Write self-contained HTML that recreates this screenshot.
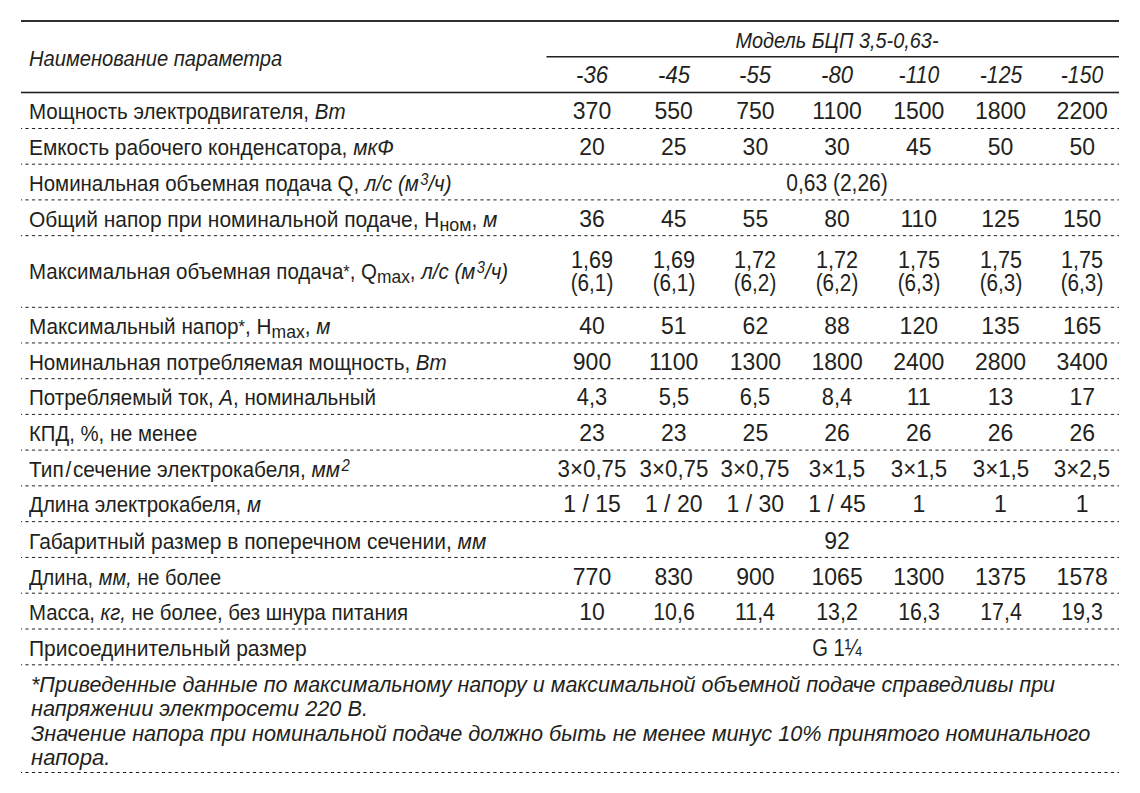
<!DOCTYPE html>
<html><head><meta charset="utf-8"><style>
html,body{margin:0;padding:0;background:#fff;width:1140px;height:793px;overflow:hidden;position:relative}
.t{position:absolute;white-space:nowrap;font-family:"Liberation Sans",sans-serif;color:#231f20}
.t sub{font-size:0.85em;vertical-align:-0.2em;line-height:0}
.t .ast{font-size:0.8em;vertical-align:0.05em;line-height:0}
.t sup{font-size:0.72em;vertical-align:0.4em;line-height:0;margin-left:0.1em}
.l{position:absolute;background:#231f20}
</style></head><body>
<svg width="1140" height="793" style="position:absolute;left:0;top:0"><line x1="21" x2="1119" y1="128.5" y2="128.5" stroke="#231f20" stroke-width="1" stroke-dasharray="3.2 3.3" stroke-dashoffset="2.1"/><line x1="21" x2="1119" y1="164.2" y2="164.2" stroke="#231f20" stroke-width="1" stroke-dasharray="3.2 3.3" stroke-dashoffset="2.1"/><line x1="21" x2="1119" y1="199.9" y2="199.9" stroke="#231f20" stroke-width="1" stroke-dasharray="3.2 3.3" stroke-dashoffset="2.1"/><line x1="21" x2="1119" y1="235.65" y2="235.65" stroke="#231f20" stroke-width="1" stroke-dasharray="3.2 3.3" stroke-dashoffset="2.1"/><line x1="21" x2="1119" y1="307.3" y2="307.3" stroke="#231f20" stroke-width="1" stroke-dasharray="3.2 3.3" stroke-dashoffset="2.1"/><line x1="21" x2="1119" y1="342.95" y2="342.95" stroke="#231f20" stroke-width="1" stroke-dasharray="3.2 3.3" stroke-dashoffset="2.1"/><line x1="21" x2="1119" y1="378.7" y2="378.7" stroke="#231f20" stroke-width="1" stroke-dasharray="3.2 3.3" stroke-dashoffset="2.1"/><line x1="21" x2="1119" y1="414.4" y2="414.4" stroke="#231f20" stroke-width="1" stroke-dasharray="3.2 3.3" stroke-dashoffset="2.1"/><line x1="21" x2="1119" y1="450.1" y2="450.1" stroke="#231f20" stroke-width="1" stroke-dasharray="3.2 3.3" stroke-dashoffset="2.1"/><line x1="21" x2="1119" y1="485.85" y2="485.85" stroke="#231f20" stroke-width="1" stroke-dasharray="3.2 3.3" stroke-dashoffset="2.1"/><line x1="21" x2="1119" y1="521.65" y2="521.65" stroke="#231f20" stroke-width="1" stroke-dasharray="3.2 3.3" stroke-dashoffset="2.1"/><line x1="21" x2="1119" y1="557.45" y2="557.45" stroke="#231f20" stroke-width="1" stroke-dasharray="3.2 3.3" stroke-dashoffset="2.1"/><line x1="21" x2="1119" y1="593.2" y2="593.2" stroke="#231f20" stroke-width="1" stroke-dasharray="3.2 3.3" stroke-dashoffset="2.1"/><line x1="21" x2="1119" y1="629.0" y2="629.0" stroke="#231f20" stroke-width="1" stroke-dasharray="3.2 3.3" stroke-dashoffset="2.1"/><line x1="21" x2="1119" y1="664.8" y2="664.8" stroke="#231f20" stroke-width="1" stroke-dasharray="3.2 3.3" stroke-dashoffset="2.1"/><line x1="21" x2="1119" y1="772.5" y2="772.5" stroke="#231f20" stroke-width="1" stroke-dasharray="3.2 3.3" stroke-dashoffset="2.1"/><rect x="21" y="20.08" width="1098" height="1.84" fill="#231f20"/><rect x="546.5" y="56.0" width="572.5" height="1.5" fill="#231f20"/><rect x="21" y="91.7" width="1098" height="1.6" fill="#231f20"/></svg>

<div class="t" style="top:47.83px;font-size:22px;line-height:22px;font-style:italic;left:28.50px;transform:scaleX(0.9165);transform-origin:0 0;">Наименование параметра</div>
<div class="t" style="top:29.83px;font-size:22px;line-height:22px;font-style:italic;left:837.40px;transform:scaleX(0.9036) translateX(-50%);transform-origin:0 0;">Модель БЦП 3,5-0,63-</div>
<div class="t" style="top:64.00px;font-size:23px;line-height:23px;font-style:italic;left:592.00px;transform:scaleX(0.96) translateX(-50%);transform-origin:0 0;">-36</div>
<div class="t" style="top:64.00px;font-size:23px;line-height:23px;font-style:italic;left:673.70px;transform:scaleX(0.96) translateX(-50%);transform-origin:0 0;">-45</div>
<div class="t" style="top:64.00px;font-size:23px;line-height:23px;font-style:italic;left:755.40px;transform:scaleX(0.96) translateX(-50%);transform-origin:0 0;">-55</div>
<div class="t" style="top:64.00px;font-size:23px;line-height:23px;font-style:italic;left:837.10px;transform:scaleX(0.96) translateX(-50%);transform-origin:0 0;">-80</div>
<div class="t" style="top:64.00px;font-size:23px;line-height:23px;font-style:italic;left:918.80px;transform:scaleX(0.92) translateX(-50%);transform-origin:0 0;">-110</div>
<div class="t" style="top:64.00px;font-size:23px;line-height:23px;font-style:italic;left:1000.50px;transform:scaleX(0.92) translateX(-50%);transform-origin:0 0;">-125</div>
<div class="t" style="top:64.00px;font-size:23px;line-height:23px;font-style:italic;left:1082.20px;transform:scaleX(0.92) translateX(-50%);transform-origin:0 0;">-150</div>
<div class="t" style="top:100.83px;font-size:22px;line-height:22px;left:29.00px;transform:scaleX(0.9335);transform-origin:0 0;">Мощность электродвигателя, <i>Вт</i></div>
<div class="t" style="top:100.00px;font-size:23px;line-height:23px;left:592.00px;transform:translateX(-50%);transform-origin:0 0;">370</div>
<div class="t" style="top:100.00px;font-size:23px;line-height:23px;left:673.70px;transform:translateX(-50%);transform-origin:0 0;">550</div>
<div class="t" style="top:100.00px;font-size:23px;line-height:23px;left:755.40px;transform:translateX(-50%);transform-origin:0 0;">750</div>
<div class="t" style="top:100.00px;font-size:23px;line-height:23px;left:837.10px;transform:translateX(-50%);transform-origin:0 0;">1100</div>
<div class="t" style="top:100.00px;font-size:23px;line-height:23px;left:918.80px;transform:translateX(-50%);transform-origin:0 0;">1500</div>
<div class="t" style="top:100.00px;font-size:23px;line-height:23px;left:1000.50px;transform:translateX(-50%);transform-origin:0 0;">1800</div>
<div class="t" style="top:100.00px;font-size:23px;line-height:23px;left:1082.20px;transform:translateX(-50%);transform-origin:0 0;">2200</div>
<div class="t" style="top:136.83px;font-size:22px;line-height:22px;left:29.00px;transform:scaleX(0.9479);transform-origin:0 0;">Емкость рабочего конденсатора, <i>мкФ</i></div>
<div class="t" style="top:136.00px;font-size:23px;line-height:23px;left:592.00px;transform:translateX(-50%);transform-origin:0 0;">20</div>
<div class="t" style="top:136.00px;font-size:23px;line-height:23px;left:673.70px;transform:translateX(-50%);transform-origin:0 0;">25</div>
<div class="t" style="top:136.00px;font-size:23px;line-height:23px;left:755.40px;transform:translateX(-50%);transform-origin:0 0;">30</div>
<div class="t" style="top:136.00px;font-size:23px;line-height:23px;left:837.10px;transform:translateX(-50%);transform-origin:0 0;">30</div>
<div class="t" style="top:136.00px;font-size:23px;line-height:23px;left:918.80px;transform:translateX(-50%);transform-origin:0 0;">45</div>
<div class="t" style="top:136.00px;font-size:23px;line-height:23px;left:1000.50px;transform:translateX(-50%);transform-origin:0 0;">50</div>
<div class="t" style="top:136.00px;font-size:23px;line-height:23px;left:1082.20px;transform:translateX(-50%);transform-origin:0 0;">50</div>
<div class="t" style="top:172.83px;font-size:22px;line-height:22px;left:29.00px;transform:scaleX(0.9286);transform-origin:0 0;">Номинальная объемная подача Q, <i>л/с (м<sup>3</sup>/ч)</i></div>
<div class="t" style="top:172.00px;font-size:23px;line-height:23px;left:837.00px;transform:scaleX(0.913) translateX(-50%);transform-origin:0 0;">0,63 (2,26)</div>
<div class="t" style="top:208.83px;font-size:22px;line-height:22px;left:29.00px;transform:scaleX(0.9517);transform-origin:0 0;">Общий напор при номинальной подаче, H<sub>ном</sub>, <i>м</i></div>
<div class="t" style="top:208.00px;font-size:23px;line-height:23px;left:592.00px;transform:translateX(-50%);transform-origin:0 0;">36</div>
<div class="t" style="top:208.00px;font-size:23px;line-height:23px;left:673.70px;transform:translateX(-50%);transform-origin:0 0;">45</div>
<div class="t" style="top:208.00px;font-size:23px;line-height:23px;left:755.40px;transform:translateX(-50%);transform-origin:0 0;">55</div>
<div class="t" style="top:208.00px;font-size:23px;line-height:23px;left:837.10px;transform:translateX(-50%);transform-origin:0 0;">80</div>
<div class="t" style="top:208.00px;font-size:23px;line-height:23px;left:918.80px;transform:translateX(-50%);transform-origin:0 0;">110</div>
<div class="t" style="top:208.00px;font-size:23px;line-height:23px;left:1000.50px;transform:translateX(-50%);transform-origin:0 0;">125</div>
<div class="t" style="top:208.00px;font-size:23px;line-height:23px;left:1082.20px;transform:translateX(-50%);transform-origin:0 0;">150</div>
<div class="t" style="top:260.83px;font-size:22px;line-height:22px;left:29.00px;transform:scaleX(0.9309);transform-origin:0 0;">Максимальная объемная подача<span class="ast">*</span>, Q<sub>max</sub>, <i>л/с (м<sup>3</sup>/ч)</i></div>
<div class="t" style="top:249.00px;font-size:23px;line-height:23px;left:592.00px;transform:scaleX(0.94) translateX(-50%);transform-origin:0 0;">1,69</div>
<div class="t" style="top:272.00px;font-size:23px;line-height:23px;left:592.00px;transform:scaleX(0.9) translateX(-50%);transform-origin:0 0;">(6,1)</div>
<div class="t" style="top:249.00px;font-size:23px;line-height:23px;left:673.70px;transform:scaleX(0.94) translateX(-50%);transform-origin:0 0;">1,69</div>
<div class="t" style="top:272.00px;font-size:23px;line-height:23px;left:673.70px;transform:scaleX(0.9) translateX(-50%);transform-origin:0 0;">(6,1)</div>
<div class="t" style="top:249.00px;font-size:23px;line-height:23px;left:755.40px;transform:scaleX(0.94) translateX(-50%);transform-origin:0 0;">1,72</div>
<div class="t" style="top:272.00px;font-size:23px;line-height:23px;left:755.40px;transform:scaleX(0.9) translateX(-50%);transform-origin:0 0;">(6,2)</div>
<div class="t" style="top:249.00px;font-size:23px;line-height:23px;left:837.10px;transform:scaleX(0.94) translateX(-50%);transform-origin:0 0;">1,72</div>
<div class="t" style="top:272.00px;font-size:23px;line-height:23px;left:837.10px;transform:scaleX(0.9) translateX(-50%);transform-origin:0 0;">(6,2)</div>
<div class="t" style="top:249.00px;font-size:23px;line-height:23px;left:918.80px;transform:scaleX(0.94) translateX(-50%);transform-origin:0 0;">1,75</div>
<div class="t" style="top:272.00px;font-size:23px;line-height:23px;left:918.80px;transform:scaleX(0.9) translateX(-50%);transform-origin:0 0;">(6,3)</div>
<div class="t" style="top:249.00px;font-size:23px;line-height:23px;left:1000.50px;transform:scaleX(0.94) translateX(-50%);transform-origin:0 0;">1,75</div>
<div class="t" style="top:272.00px;font-size:23px;line-height:23px;left:1000.50px;transform:scaleX(0.9) translateX(-50%);transform-origin:0 0;">(6,3)</div>
<div class="t" style="top:249.00px;font-size:23px;line-height:23px;left:1082.20px;transform:scaleX(0.94) translateX(-50%);transform-origin:0 0;">1,75</div>
<div class="t" style="top:272.00px;font-size:23px;line-height:23px;left:1082.20px;transform:scaleX(0.9) translateX(-50%);transform-origin:0 0;">(6,3)</div>
<div class="t" style="top:315.83px;font-size:22px;line-height:22px;left:29.00px;transform:scaleX(0.941);transform-origin:0 0;">Максимальный напор<span class="ast">*</span>, H<sub>max</sub>, <i>м</i></div>
<div class="t" style="top:315.00px;font-size:23px;line-height:23px;left:592.00px;transform:translateX(-50%);transform-origin:0 0;">40</div>
<div class="t" style="top:315.00px;font-size:23px;line-height:23px;left:673.70px;transform:translateX(-50%);transform-origin:0 0;">51</div>
<div class="t" style="top:315.00px;font-size:23px;line-height:23px;left:755.40px;transform:translateX(-50%);transform-origin:0 0;">62</div>
<div class="t" style="top:315.00px;font-size:23px;line-height:23px;left:837.10px;transform:translateX(-50%);transform-origin:0 0;">88</div>
<div class="t" style="top:315.00px;font-size:23px;line-height:23px;left:918.80px;transform:translateX(-50%);transform-origin:0 0;">120</div>
<div class="t" style="top:315.00px;font-size:23px;line-height:23px;left:1000.50px;transform:translateX(-50%);transform-origin:0 0;">135</div>
<div class="t" style="top:315.00px;font-size:23px;line-height:23px;left:1082.20px;transform:translateX(-50%);transform-origin:0 0;">165</div>
<div class="t" style="top:351.83px;font-size:22px;line-height:22px;left:29.00px;transform:scaleX(0.9362);transform-origin:0 0;">Номинальная потребляемая мощность, <i>Вт</i></div>
<div class="t" style="top:351.00px;font-size:23px;line-height:23px;left:592.00px;transform:translateX(-50%);transform-origin:0 0;">900</div>
<div class="t" style="top:351.00px;font-size:23px;line-height:23px;left:673.70px;transform:translateX(-50%);transform-origin:0 0;">1100</div>
<div class="t" style="top:351.00px;font-size:23px;line-height:23px;left:755.40px;transform:translateX(-50%);transform-origin:0 0;">1300</div>
<div class="t" style="top:351.00px;font-size:23px;line-height:23px;left:837.10px;transform:translateX(-50%);transform-origin:0 0;">1800</div>
<div class="t" style="top:351.00px;font-size:23px;line-height:23px;left:918.80px;transform:translateX(-50%);transform-origin:0 0;">2400</div>
<div class="t" style="top:351.00px;font-size:23px;line-height:23px;left:1000.50px;transform:translateX(-50%);transform-origin:0 0;">2800</div>
<div class="t" style="top:351.00px;font-size:23px;line-height:23px;left:1082.20px;transform:translateX(-50%);transform-origin:0 0;">3400</div>
<div class="t" style="top:386.83px;font-size:22px;line-height:22px;left:29.00px;transform:scaleX(0.9342);transform-origin:0 0;">Потребляемый ток, <i>А</i>, номинальный</div>
<div class="t" style="top:386.00px;font-size:23px;line-height:23px;left:592.00px;transform:scaleX(0.95) translateX(-50%);transform-origin:0 0;">4,3</div>
<div class="t" style="top:386.00px;font-size:23px;line-height:23px;left:673.70px;transform:scaleX(0.95) translateX(-50%);transform-origin:0 0;">5,5</div>
<div class="t" style="top:386.00px;font-size:23px;line-height:23px;left:755.40px;transform:scaleX(0.95) translateX(-50%);transform-origin:0 0;">6,5</div>
<div class="t" style="top:386.00px;font-size:23px;line-height:23px;left:837.10px;transform:scaleX(0.95) translateX(-50%);transform-origin:0 0;">8,4</div>
<div class="t" style="top:386.00px;font-size:23px;line-height:23px;left:918.80px;transform:translateX(-50%);transform-origin:0 0;">11</div>
<div class="t" style="top:386.00px;font-size:23px;line-height:23px;left:1000.50px;transform:translateX(-50%);transform-origin:0 0;">13</div>
<div class="t" style="top:386.00px;font-size:23px;line-height:23px;left:1082.20px;transform:translateX(-50%);transform-origin:0 0;">17</div>
<div class="t" style="top:422.83px;font-size:22px;line-height:22px;left:29.00px;transform:scaleX(0.924);transform-origin:0 0;">КПД, %, не менее</div>
<div class="t" style="top:422.00px;font-size:23px;line-height:23px;left:592.00px;transform:translateX(-50%);transform-origin:0 0;">23</div>
<div class="t" style="top:422.00px;font-size:23px;line-height:23px;left:673.70px;transform:translateX(-50%);transform-origin:0 0;">23</div>
<div class="t" style="top:422.00px;font-size:23px;line-height:23px;left:755.40px;transform:translateX(-50%);transform-origin:0 0;">25</div>
<div class="t" style="top:422.00px;font-size:23px;line-height:23px;left:837.10px;transform:translateX(-50%);transform-origin:0 0;">26</div>
<div class="t" style="top:422.00px;font-size:23px;line-height:23px;left:918.80px;transform:translateX(-50%);transform-origin:0 0;">26</div>
<div class="t" style="top:422.00px;font-size:23px;line-height:23px;left:1000.50px;transform:translateX(-50%);transform-origin:0 0;">26</div>
<div class="t" style="top:422.00px;font-size:23px;line-height:23px;left:1082.20px;transform:translateX(-50%);transform-origin:0 0;">26</div>
<div class="t" style="top:458.83px;font-size:22px;line-height:22px;left:29.00px;transform:scaleX(0.9456);transform-origin:0 0;">Тип&#8202;/&#8202;сечение электрокабеля, <i>мм<sup>2</sup></i></div>
<div class="t" style="top:458.00px;font-size:23px;line-height:23px;left:592.00px;transform:scaleX(0.97) translateX(-50%);transform-origin:0 0;">3×0,75</div>
<div class="t" style="top:458.00px;font-size:23px;line-height:23px;left:673.70px;transform:scaleX(0.97) translateX(-50%);transform-origin:0 0;">3×0,75</div>
<div class="t" style="top:458.00px;font-size:23px;line-height:23px;left:755.40px;transform:scaleX(0.97) translateX(-50%);transform-origin:0 0;">3×0,75</div>
<div class="t" style="top:458.00px;font-size:23px;line-height:23px;left:837.10px;transform:scaleX(0.97) translateX(-50%);transform-origin:0 0;">3×1,5</div>
<div class="t" style="top:458.00px;font-size:23px;line-height:23px;left:918.80px;transform:scaleX(0.97) translateX(-50%);transform-origin:0 0;">3×1,5</div>
<div class="t" style="top:458.00px;font-size:23px;line-height:23px;left:1000.50px;transform:scaleX(0.97) translateX(-50%);transform-origin:0 0;">3×1,5</div>
<div class="t" style="top:458.00px;font-size:23px;line-height:23px;left:1082.20px;transform:scaleX(0.97) translateX(-50%);transform-origin:0 0;">3×2,5</div>
<div class="t" style="top:493.83px;font-size:22px;line-height:22px;left:29.00px;transform:scaleX(0.9318);transform-origin:0 0;">Длина электрокабеля, <i>м</i></div>
<div class="t" style="top:493.00px;font-size:23px;line-height:23px;left:592.00px;transform:translateX(-50%);transform-origin:0 0;">1 / 15</div>
<div class="t" style="top:493.00px;font-size:23px;line-height:23px;left:673.70px;transform:translateX(-50%);transform-origin:0 0;">1 / 20</div>
<div class="t" style="top:493.00px;font-size:23px;line-height:23px;left:755.40px;transform:translateX(-50%);transform-origin:0 0;">1 / 30</div>
<div class="t" style="top:493.00px;font-size:23px;line-height:23px;left:837.10px;transform:translateX(-50%);transform-origin:0 0;">1 / 45</div>
<div class="t" style="top:493.00px;font-size:23px;line-height:23px;left:918.80px;transform:translateX(-50%);transform-origin:0 0;">1</div>
<div class="t" style="top:493.00px;font-size:23px;line-height:23px;left:1000.50px;transform:translateX(-50%);transform-origin:0 0;">1</div>
<div class="t" style="top:493.00px;font-size:23px;line-height:23px;left:1082.20px;transform:translateX(-50%);transform-origin:0 0;">1</div>
<div class="t" style="top:530.83px;font-size:22px;line-height:22px;left:29.00px;transform:scaleX(0.9518);transform-origin:0 0;">Габаритный размер в поперечном сечении, <i>мм</i></div>
<div class="t" style="top:530.00px;font-size:23px;line-height:23px;left:837.00px;transform:translateX(-50%);transform-origin:0 0;">92</div>
<div class="t" style="top:566.83px;font-size:22px;line-height:22px;left:29.00px;transform:scaleX(0.9095);transform-origin:0 0;">Длина, <i>мм,</i> не более</div>
<div class="t" style="top:566.00px;font-size:23px;line-height:23px;left:592.00px;transform:translateX(-50%);transform-origin:0 0;">770</div>
<div class="t" style="top:566.00px;font-size:23px;line-height:23px;left:673.70px;transform:translateX(-50%);transform-origin:0 0;">830</div>
<div class="t" style="top:566.00px;font-size:23px;line-height:23px;left:755.40px;transform:translateX(-50%);transform-origin:0 0;">900</div>
<div class="t" style="top:566.00px;font-size:23px;line-height:23px;left:837.10px;transform:translateX(-50%);transform-origin:0 0;">1065</div>
<div class="t" style="top:566.00px;font-size:23px;line-height:23px;left:918.80px;transform:translateX(-50%);transform-origin:0 0;">1300</div>
<div class="t" style="top:566.00px;font-size:23px;line-height:23px;left:1000.50px;transform:translateX(-50%);transform-origin:0 0;">1375</div>
<div class="t" style="top:566.00px;font-size:23px;line-height:23px;left:1082.20px;transform:translateX(-50%);transform-origin:0 0;">1578</div>
<div class="t" style="top:601.83px;font-size:22px;line-height:22px;left:29.00px;transform:scaleX(0.9265);transform-origin:0 0;">Масса, <i>кг,</i> не более, без шнура питания</div>
<div class="t" style="top:601.00px;font-size:23px;line-height:23px;left:592.00px;transform:translateX(-50%);transform-origin:0 0;">10</div>
<div class="t" style="top:601.00px;font-size:23px;line-height:23px;left:673.70px;transform:scaleX(0.93) translateX(-50%);transform-origin:0 0;">10,6</div>
<div class="t" style="top:601.00px;font-size:23px;line-height:23px;left:755.40px;transform:scaleX(0.93) translateX(-50%);transform-origin:0 0;">11,4</div>
<div class="t" style="top:601.00px;font-size:23px;line-height:23px;left:837.10px;transform:scaleX(0.93) translateX(-50%);transform-origin:0 0;">13,2</div>
<div class="t" style="top:601.00px;font-size:23px;line-height:23px;left:918.80px;transform:scaleX(0.93) translateX(-50%);transform-origin:0 0;">16,3</div>
<div class="t" style="top:601.00px;font-size:23px;line-height:23px;left:1000.50px;transform:scaleX(0.93) translateX(-50%);transform-origin:0 0;">17,4</div>
<div class="t" style="top:601.00px;font-size:23px;line-height:23px;left:1082.20px;transform:scaleX(0.93) translateX(-50%);transform-origin:0 0;">19,3</div>
<div class="t" style="top:637.83px;font-size:22px;line-height:22px;left:29.00px;transform:scaleX(0.9542);transform-origin:0 0;">Присоединительный размер</div>
<div class="t" style="top:637.00px;font-size:23px;line-height:23px;left:837.00px;transform:scaleX(0.88) translateX(-50%);transform-origin:0 0;">G 1¼</div>
<div class="t" style="top:673.83px;font-size:22px;line-height:22px;font-style:italic;left:30.50px;transform:scaleX(0.9766);transform-origin:0 0;">*Приведенные данные по максимальному напору и максимальной объемной подаче справедливы при</div>
<div class="t" style="top:698.33px;font-size:22px;line-height:22px;font-style:italic;left:30.50px;transform:scaleX(0.9869);transform-origin:0 0;">напряжении электросети 220 В.</div>
<div class="t" style="top:722.83px;font-size:22px;line-height:22px;font-style:italic;left:30.50px;transform:scaleX(0.9854);transform-origin:0 0;">Значение напора при номинальной подаче должно быть не менее минус 10% принятого номинального</div>
<div class="t" style="top:746.83px;font-size:22px;line-height:22px;font-style:italic;left:30.50px;transform:scaleX(1.0048);transform-origin:0 0;">напора.</div>
</body></html>
